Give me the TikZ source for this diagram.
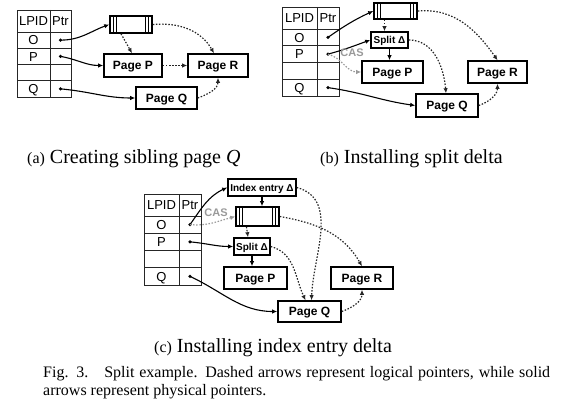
\documentclass[tikz,border=0pt]{standalone}
\usepackage{fontspec}
\setmainfont{Liberation Serif}
\setsansfont{Liberation Sans}
\usetikzlibrary{arrows.meta,calc}

\tikzset{
  tabline/.style={line width=0.9pt, black!85},
  tabtext/.style={font=\sffamily\fontsize{13}{15}\selectfont, inner sep=0pt, text height=9.3pt, text depth=0pt},
  pagebox/.style={draw, line width=1.6pt, fill=white, inner sep=0pt, font=\sffamily\bfseries\fontsize{12}{14}\selectfont, text height=8.6pt, text depth=0pt},
  deltabox/.style={draw, line width=1.6pt, fill=white, inner sep=0pt, font=\sffamily\bfseries\fontsize{10}{12}\selectfont, text height=7.2pt, text depth=0pt},
  idxbox/.style={draw, line width=1.6pt, fill=white, inner sep=0pt},
  phys/.style={-{Latex[length=5pt,width=4.5pt]}, line width=1.1pt, black},
  logi/.style={-{Latex[length=5pt,width=4.5pt]}, line width=1.2pt, dash pattern=on 1.5pt off 1.6pt, black!85},
  cas/.style={logi, black!40},
  caslabel/.style={font=\sffamily\bfseries\fontsize{11}{13}\selectfont, text=black!40, inner sep=0pt},
  subcap/.style={anchor=base west, inner sep=0pt, font=\fontsize{20}{24}\selectfont},
  figcap/.style={anchor=base west, inner sep=0pt, font=\fontsize{16}{18}\selectfont},
}

% #1 prefix, #2 x0, #3 xsplit, #4 x1, #5 top, #6 header bottom, #7 row height
\newcommand\lpidtab[7]{%
  \draw[tabline] (#2,#5) rectangle (#4,{#6+4*#7});
  \draw[tabline] (#3,#5) -- (#3,{#6+4*#7});
  \foreach \k in {0,1,2,3} {\draw[tabline] (#2,{#6+\k*#7}) -- (#4,{#6+\k*#7});}
  \node[tabtext] (#1hL) at ({(#2+#3)/2},{(#5+#6)/2}) {LPID};
  \node[tabtext] (#1hP) at ({(#3+#4)/2},{(#5+#6)/2}) {Ptr};
  \node[tabtext] (#1lO) at ({(#2+#3)/2},{#6+0.5*#7}) {O};
  \node[tabtext] (#1lP) at ({(#2+#3)/2},{#6+1.5*#7}) {P};
  \node[tabtext] (#1lQ) at ({(#2+#3)/2},{#6+3.5*#7}) {Q};
  \coordinate (#1dO) at ({(#3+#4)/2},{#6+0.5*#7});
  \coordinate (#1dP) at ({(#3+#4)/2},{#6+1.5*#7});
  \coordinate (#1dQ) at ({(#3+#4)/2},{#6+3.5*#7});
  \fill (#1dO) circle (1.8pt);
  \fill (#1dP) circle (1.8pt);
  \fill (#1dQ) circle (1.8pt);
}
% inner double bars of an index node
\newcommand\idxbars[1]{%
  \draw[line width=0.9pt] ([xshift=4pt]#1.north west) -- ([xshift=4pt]#1.south west);
  \draw[line width=0.9pt] ([xshift=7.5pt]#1.north west) -- ([xshift=7.5pt]#1.south west);
  \draw[line width=0.9pt] ([xshift=-4pt]#1.north east) -- ([xshift=-4pt]#1.south east);
  \draw[line width=0.9pt] ([xshift=-7.5pt]#1.north east) -- ([xshift=-7.5pt]#1.south east);
}

\begin{document}
\begin{tikzpicture}[x=1pt,y=-1pt]
\useasboundingbox (0,0) rectangle (576,412);

% ---------------- (a) ----------------
\lpidtab{a}{17}{50}{71}{10}{32}{16.25}
\node[idxbox, minimum width=42, minimum height=17] (aI) at (131,24.5) {};
\idxbars{aI}
\node[pagebox, minimum width=58, minimum height=23] (aPP) at (133,65.5) {Page P};
\node[pagebox, minimum width=60, minimum height=23] (aPR) at (218,65.5) {Page R};
\node[pagebox, minimum width=61, minimum height=22] (aPQ) at (166.5,98) {Page Q};
\draw[phys] (adO) to[out=0,in=200] (aI.west);
\draw[phys] (adP) to[out=-10,in=180] (aPP.west);
\draw[phys] (adQ) to[out=-5,in=180] (aPQ.west);
\draw[logi] ([xshift=-10pt]aI.south) -- ([xshift=-1pt]aPP.north);
\draw[logi] (aI.east) to[out=5,in=120] ([xshift=-4pt]aPR.north);
\draw[logi] (aPP.east) -- (aPR.west);
\draw[logi] (aPQ.east) to[out=20,in=-90] (aPR.south);

% ---------------- (b) ----------------
\lpidtab{b}{282}{317}{339}{7}{29}{16.75}
\node[idxbox, minimum width=43, minimum height=16] (bI) at (395.5,11) {};
\idxbars{bI}
\node[deltabox, minimum width=37, minimum height=16] (bS) at (389.5,40) {Split Δ};
\node[pagebox, minimum width=61, minimum height=22] (bPP) at (392.5,72) {Page P};
\node[pagebox, minimum width=59, minimum height=22] (bPR) at (497.5,72) {Page R};
\node[pagebox, minimum width=62, minimum height=23] (bPQ) at (447,105.5) {Page Q};
\draw[phys] (bdO) to[out=35,in=205] (bI.west);
\draw[phys] (bdP) to[out=15,in=200] (bS.west);
\draw[cas] (bdP) to[out=-15,in=180] (bPP.west);
\node[caslabel] (bcas) at (352,53) {CAS};
\draw[phys] (bdQ) to[out=-8,in=172] (bPQ.west);
\draw[logi] ([xshift=-11pt]bI.south) -- ([xshift=-5pt]bS.north);
\draw[phys] (bS.south) -- (bS.south |- bPP.north);
\draw[logi] (bS.east) to[out=0,in=95] ([xshift=-1pt]bPQ.north);
\draw[logi] (bI.east) to[out=5,in=125] (bPR.north);
\draw[logi] (bPQ.east) to[out=20,in=-90] (bPR.south);

% ---------------- (c) ----------------
\lpidtab{c}{144}{179}{201}{194}{216}{17.25}
\node[deltabox, minimum width=68, minimum height=17] (cE) at (262,187.5) {Index entry Δ};
\node[idxbox, minimum width=43, minimum height=19] (cI) at (257.5,216.5) {};
\idxbars{cI}
\node[deltabox, minimum width=36, minimum height=17] (cS) at (252,246.5) {Split Δ};
\node[pagebox, minimum width=63, minimum height=22] (cPP) at (255.5,278) {Page P};
\node[pagebox, minimum width=62, minimum height=22] (cPR) at (362,278) {Page R};
\node[pagebox, minimum width=63, minimum height=21] (cPQ) at (309.5,311.5) {Page Q};
\draw[phys] (cdO) to[out=55,in=205] (cE.west);
\draw[cas] (cdO) to[out=-5,in=195] (cI.west);
\node[caslabel] (ccas) at (216,213) {CAS};
\draw[phys] (cE.south) -- (cE.south |- cI.north);
\draw[logi] (cI.east) to[out=-10,in=120] (cPR.north);
\draw[logi] (cE.east) to[out=-15,in=88] ([xshift=2pt]cPQ.north);
\draw[logi] ([xshift=-11pt]cI.south) -- ([xshift=-4pt]cS.north);
\draw[phys] (cdP) to[out=-5,in=180] (cS.west);
\draw[phys] (cS.south) -- (cS.south |- cPP.north);
\draw[logi] (cS.east) to[out=-15,in=115] ([xshift=-4pt]cPQ.north);
\draw[phys] (cdQ) to[out=-25,in=180] (cPQ.west);
\draw[logi] (cPQ.east) to[out=20,in=-90] (cPR.south);

% ---------------- captions ----------------
\node[subcap] (capa) at (27,163) {{\fontsize{16}{18}\selectfont(a)} Creating sibling page \textit{Q}};
\node[subcap] (capb) at (320,163) {{\fontsize{16}{18}\selectfont(b)} Installing split delta};
\node[subcap] (capc) at (154,352) {{\fontsize{16}{18}\selectfont(c)} Installing index entry delta};
\node[figcap] (fig1) at (43,377) {\makebox[507pt][s]{Fig. 3.\quad Split example. Dashed arrows represent logical pointers, while solid}};
\node[figcap] (fig2) at (43,395) {arrows represent physical pointers.};
\end{tikzpicture}
\end{document}
